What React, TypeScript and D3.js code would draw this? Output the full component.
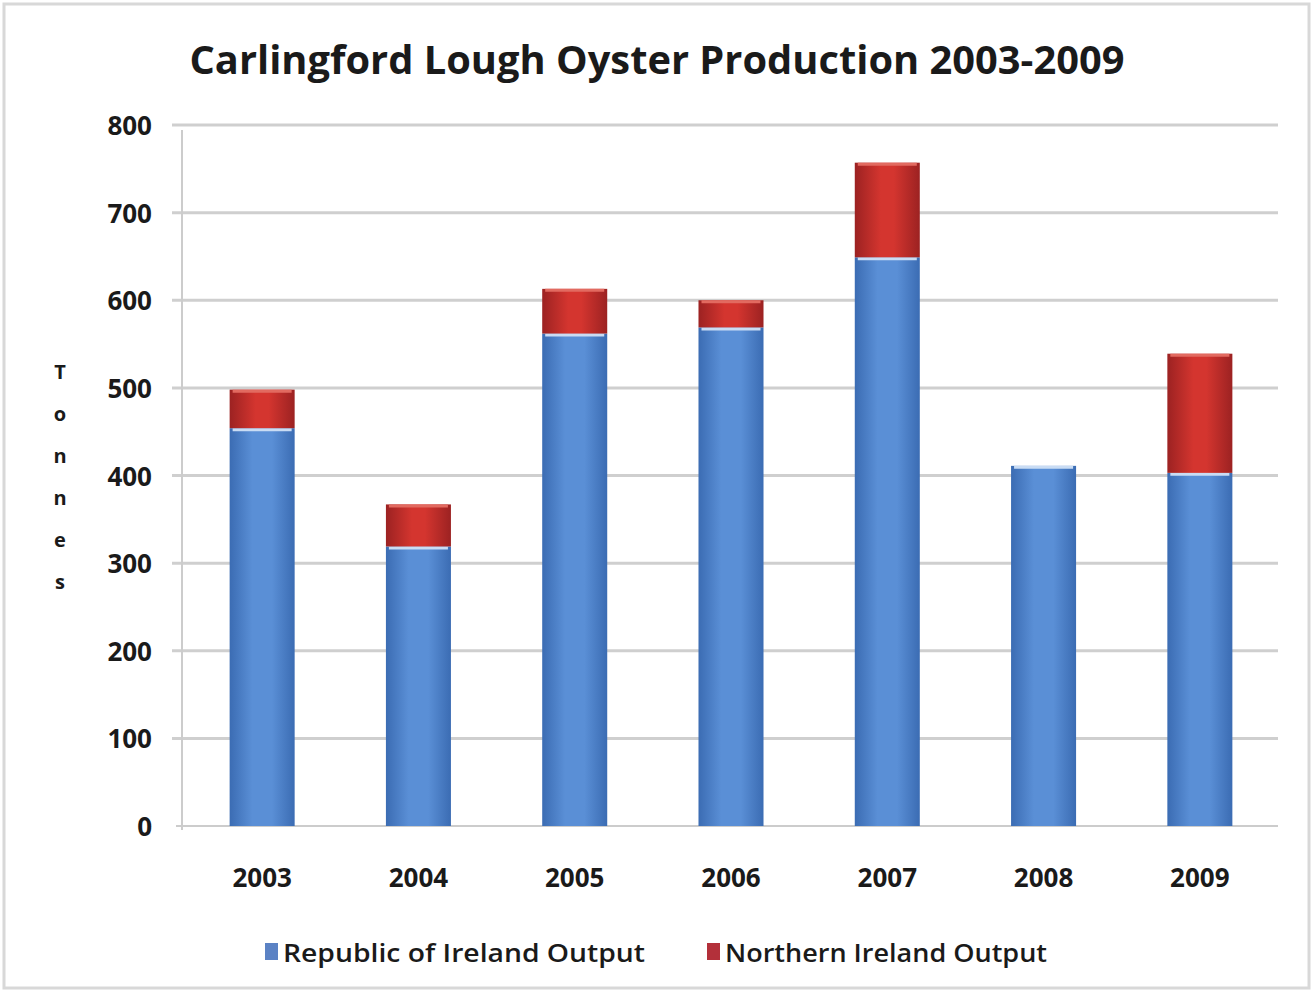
import React from "react";
import * as d3 from "d3";

const years = ["2003", "2004", "2005", "2006", "2007", "2008", "2009"];
const roiOutput = [454, 319, 562, 569, 649, 411, 403];
const niOutput = [44, 48, 51, 31, 108, 0, 136];
const yTicks = [0, 100, 200, 300, 400, 500, 600, 700, 800];
const seriesNames = ["Republic of Ireland Output", "Northern Ireland Output"];

const W = 1313;
const H = 992;
const font = "'Open Sans', 'DejaVu Sans', sans-serif";

export default function App() {
  const x = d3.scaleBand<string>().domain(years).range([184, 1278]).paddingInner(0.584).paddingOuter(0.292);
  const y = d3.scaleLinear().domain([0, 800]).range([826, 125]);
  const stackData = years.map((yr, i) => ({ year: yr, roi: roiOutput[i], ni: niOutput[i] }));
  const stacked = d3.stack<any>().keys(["roi", "ni"])(stackData);
  const fills = ["url(#gBlue)", "url(#gRed)"];
  const legendColors = ["#5b82c4", "#b3303a"];
  const legendX = [265, 707];
  const legendLen = [362, 322];

  return (
    <svg width={W} height={H} style={{ display: "block", position: "absolute", left: 0, top: 0 }}>
      <defs>
        <linearGradient id="gBlue" x1="0" x2="1" y1="0" y2="0">
          <stop offset="0" stopColor="#3b6cb3" />
          <stop offset="0.35" stopColor="#5a8fd6" />
          <stop offset="0.65" stopColor="#5a8fd6" />
          <stop offset="1" stopColor="#3b6cb3" />
        </linearGradient>
        <linearGradient id="gRed" x1="0" x2="1" y1="0" y2="0">
          <stop offset="0" stopColor="#9c2222" />
          <stop offset="0.4" stopColor="#d4352f" />
          <stop offset="0.6" stopColor="#d4352f" />
          <stop offset="1" stopColor="#9c2222" />
        </linearGradient>
      </defs>
      <rect x={0} y={0} width={W} height={H} fill="#ffffff" />
      <rect x={4} y={4} width={W - 8} height={H - 8} fill="none" stroke="#d8d8d8" strokeWidth={3} />
      <text x={657} y={74} textAnchor="middle" fontFamily={font} fontWeight="bold" fontSize={40} fill="#1a1a1a" textLength={935} lengthAdjust="spacingAndGlyphs">
        Carlingford Lough Oyster Production 2003-2009
      </text>
      {yTicks.map((t) => (
        <g key={t}>
          {t > 0 && (
            <line x1={172} x2={1278} y1={y(t)} y2={y(t)} stroke="#cfcfcf" strokeWidth={3} />
          )}
          <text x={152} y={y(t) + 10} textAnchor="end" fontFamily={font} fontWeight="bold" fontSize={26} fill="#1a1a1a">
            {t}
          </text>
        </g>
      ))}
      <line x1={182} x2={182} y1={130} y2={830} stroke="#cccccc" strokeWidth={2} />
      <line x1={176} x2={1278} y1={y(0)} y2={y(0)} stroke="#cccccc" strokeWidth={2} />
      {"Tonnes".split("").map((c, i) => (
        <text key={i} x={60} y={379 + i * 42} textAnchor="middle" fontFamily={font} fontWeight="bold" fontSize={20} fill="#1a1a1a">
          {c}
        </text>
      ))}
      {stacked.map((layer, li) => (
        <g key={li}>
          {layer.map((d, i) =>
            d[1] - d[0] > 0 ? (
              <g key={i}>
                <rect
                  x={x(years[i])!}
                  y={y(d[1])}
                  width={x.bandwidth()}
                  height={y(d[0]) - y(d[1])}
                  fill={fills[li]}
                />
                <line
                  x1={x(years[i])! + 3}
                  x2={x(years[i])! + x.bandwidth() - 3}
                  y1={y(d[1]) + 1.5}
                  y2={y(d[1]) + 1.5}
                  stroke={li === 0 ? "#c9dcf4" : "#e26a60"}
                  strokeWidth={3}
                />
              </g>
            ) : null
          )}
        </g>
      ))}
      {years.map((yr) => (
        <text key={yr} x={x(yr)! + x.bandwidth() / 2} y={887} textAnchor="middle" fontFamily={font} fontWeight="bold" fontSize={26} fill="#1a1a1a">
          {yr}
        </text>
      ))}
      {seriesNames.map((s, i) => (
        <g key={s}>
          <rect x={legendX[i]} y={943} width={13} height={17} fill={legendColors[i]} />
          <text x={legendX[i] + 18} y={962} fontFamily={font} fontWeight="600" fontSize={26} fill="#1a1a1a" textLength={legendLen[i]} lengthAdjust="spacingAndGlyphs">
            {s}
          </text>
        </g>
      ))}
    </svg>
  );
}
